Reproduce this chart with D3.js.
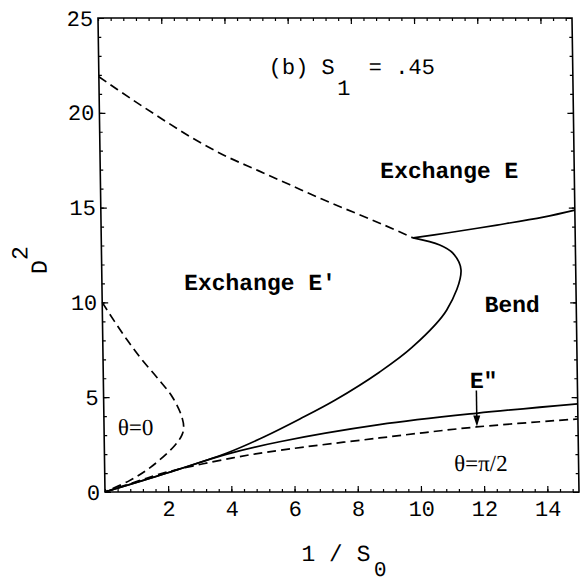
<!DOCTYPE html>
<html>
<head>
<meta charset="utf-8">
<script src="https://cdn.jsdelivr.net/npm/d3@7"></script>
<style>
  html, body { margin: 0; padding: 0; background: #fff; }
  svg { display: block; }
  .mono { font-family: "Liberation Mono", "DejaVu Sans Mono", monospace; }
  .serif { font-family: "Liberation Serif", "DejaVu Serif", serif; }
</style>
</head>
<body>
<svg id="chart" width="581" height="583"></svg>
<script>
// Tick values
const xTicks = [2, 4, 6, 8, 10, 12, 14];
const yTicks = [0, 5, 10, 15, 20, 25];
const xMinorTicks = d3.range(0, 15.01, 0.4).map(v => +v.toFixed(2));
const yMinorTicks = d3.range(0, 25.01, 1);

// Phase boundaries, 1/S0 (x) against D^2 (y)
// Exchange E | Exchange E'  (dashed)
const edgeEEpX = [0, 1, 2, 3, 4, 5, 6, 7, 8, 9, 9.87];
const edgeEEpY = [21.9, 20.75, 19.65, 18.6, 17.7, 16.95, 16.2, 15.45, 14.75, 14.05, 13.4];
// Exchange E | Bend  (solid)
const edgeEBX = [9.87, 10.94, 12.53, 14, 15];
const edgeEBY = [13.4, 13.66, 14.08, 14.5, 14.87];
// Exchange E' | Bend  (solid, from the origin round the nose to the triple point)
const edgeEpBX = [0, 1.97, 3.88, 5.05, 6.2, 7.33, 8.75, 9.8, 10.9, 11.37, 11.12, 10.71, 9.87];
const edgeEpBY = [0, 1.0, 2.06, 2.9, 3.85, 4.85, 6.33, 7.65, 9.6, 11.71, 12.6, 13.03, 13.4];
// Bend | E''  (solid)
const edgeBEppX = [0, 1.97, 3.88, 5.55, 8.71, 11.78, 15];
const edgeBEppY = [0, 1.0, 2.0, 2.65, 3.55, 4.15, 4.65];
// theta = pi/2 limit (dashed)
const edgeHalfPiX = [0, 1, 1.97, 4.06, 5.55, 8.71, 11.78, 15];
const edgeHalfPiY = [0, 0.55, 1.05, 1.8, 2.2, 2.85, 3.43, 3.85];
// theta = 0 limit (dashed)
const edgeZeroX = [0, 0.38, 0.78, 1.22, 1.72, 2.18, 2.46, 2.52, 2.46, 2.2, 1.45, 0.78, 0];
const edgeZeroY = [10, 9, 8, 7, 6, 5, 4, 3.4, 3, 2.4, 1.3, 0.6, 0];

const curves = [
  { xs: edgeEEpX, ys: edgeEEpY, dashed: true },
  { xs: edgeEBX, ys: edgeEBY, dashed: false },
  { xs: edgeEpBX, ys: edgeEpBY, dashed: false },
  { xs: edgeBEppX, ys: edgeBEppY, dashed: false },
  { xs: edgeHalfPiX, ys: edgeHalfPiY, dashed: true },
  { xs: edgeZeroX, ys: edgeZeroY, dashed: true }
];

const W = 581, H = 583;
const frame = { left: 98, top: 18, right: 572, bottom: 492 };

const x = d3.scaleLinear().domain([0, 15]).range([frame.left, frame.right]);
const y = d3.scaleLinear().domain([0, 25]).range([frame.bottom, frame.top]);

const svg = d3.select("#chart");
svg.append("rect").attr("width", W).attr("height", H).attr("fill", "#fff");

// the printed figure is slightly sheared: lower rows sit further right
const shear = Math.atan(7 / 474) * 180 / Math.PI;
const root = svg.append("g")
  .attr("transform", `translate(0,${frame.top}) skewX(${shear}) translate(0,${-frame.top})`);

// frame
root.append("rect")
  .attr("x", frame.left).attr("y", frame.top)
  .attr("width", frame.right - frame.left).attr("height", frame.bottom - frame.top)
  .attr("fill", "none").attr("stroke", "#000").attr("stroke-width", 1.6);

function styleAxis(g) {
  g.select(".domain").remove();
  g.selectAll(".tick line").attr("stroke", "#000").attr("stroke-width", 1.2);
  g.selectAll(".tick text")
    .attr("class", "mono").attr("fill", "#000").attr("font-size", 22);
}

const MAJOR = 6, MINOR = 3;

// bottom
root.append("g").attr("transform", `translate(0,${frame.bottom})`)
  .call(d3.axisBottom(x).tickValues(xMinorTicks).tickSize(-MINOR).tickFormat(""))
  .call(styleAxis);
root.append("g").attr("transform", `translate(0,${frame.bottom})`)
  .call(d3.axisBottom(x).tickValues(xTicks).tickSize(-MAJOR).tickPadding(8).tickFormat(d3.format("d")))
  .call(styleAxis);
// top
root.append("g").attr("transform", `translate(0,${frame.top})`)
  .call(d3.axisTop(x).tickValues(xMinorTicks).tickSize(-MINOR).tickFormat(""))
  .call(styleAxis);
root.append("g").attr("transform", `translate(0,${frame.top})`)
  .call(d3.axisTop(x).tickValues(xTicks).tickSize(-MAJOR).tickFormat(""))
  .call(styleAxis);
// left
root.append("g").attr("transform", `translate(${frame.left},0)`)
  .call(d3.axisLeft(y).tickValues(yMinorTicks).tickSize(-MINOR).tickFormat(""))
  .call(styleAxis);
root.append("g").attr("transform", `translate(${frame.left},0)`)
  .call(d3.axisLeft(y).tickValues(yTicks).tickSize(-MAJOR).tickPadding(5).tickFormat(d3.format("d")))
  .call(styleAxis);
// right
root.append("g").attr("transform", `translate(${frame.right},0)`)
  .call(d3.axisRight(y).tickValues(yMinorTicks).tickSize(-MINOR).tickFormat(""))
  .call(styleAxis);
root.append("g").attr("transform", `translate(${frame.right},0)`)
  .call(d3.axisRight(y).tickValues(yTicks).tickSize(-MAJOR).tickFormat(""))
  .call(styleAxis);

// boundaries
const line = d3.line()
  .x(d => x(d[0])).y(d => y(d[1]))
  .curve(d3.curveCatmullRom.alpha(0.5));

root.append("g").selectAll("path")
  .data(curves)
  .join("path")
  .attr("d", c => line(c.xs.map((v, i) => [v, c.ys[i]])))
  .attr("fill", "none")
  .attr("stroke", "#000")
  .attr("stroke-width", 1.7)
  .attr("stroke-dasharray", c => c.dashed ? "9,5" : null);

// region labels
const regions = [
  { text: "Exchange E", x: 8.86, y: 16.55 },
  { text: "Exchange E\u2032", x: 2.6, y: 10.65 },
  { text: "Bend", x: 12.1, y: 9.49 },
  { text: "E\"", x: 11.6, y: 5.5 }
];
root.append("g").selectAll("text")
  .data(regions)
  .join("text")
  .attr("class", "mono")
  .attr("font-weight", "bold")
  .attr("font-size", 23)
  .attr("x", d => x(d.x)).attr("y", d => y(d.y))
  .text(d => d.text);

// arrow to the theta = pi/2 line
const arrowX = 11.8, arrowFrom = 5.35, arrowTo = 3.45;
root.append("line")
  .attr("x1", x(arrowX)).attr("x2", x(arrowX))
  .attr("y1", y(arrowFrom)).attr("y2", y(arrowTo) - 9)
  .attr("stroke", "#000").attr("stroke-width", 1.5);
root.append("path")
  .attr("d", `M${x(arrowX) - 3.5},${y(arrowTo) - 11} L${x(arrowX) + 3.5},${y(arrowTo) - 11} L${x(arrowX)},${y(arrowTo)} Z`)
  .attr("fill", "#000");

// theta labels
const thetaLabels = [
  { text: "\u03B8=0", x: 0.44, y: 3.01 },
  { text: "\u03B8=\u03C0/2", x: 11.06, y: 1.11 }
];
root.append("g").selectAll("text")
  .data(thetaLabels)
  .join("text")
  .attr("class", "serif")
  .attr("font-size", 23)
  .attr("x", d => x(d.x)).attr("y", d => y(d.y))
  .text(d => d.text);

// panel title: (b) S1 = .45
const title = root.append("g").attr("class", "mono").attr("font-size", 22);
title.append("text").attr("x", 268).attr("y", 74).text("(b) S");
title.append("text").attr("x", 336).attr("y", 95).text("1");
title.append("text").attr("x", 368).attr("y", 74).text("= .45");

// x axis title: 1 / S0
const xt = root.append("g").attr("class", "mono");
xt.append("text").attr("x", 328).attr("y", 561).attr("font-size", 23)
  .attr("text-anchor", "middle").text("1 / S");
xt.append("text").attr("x", 372).attr("y", 576).attr("font-size", 21)
  .attr("text-anchor", "middle").text("0");

// y axis title: D^2
const yt = root.append("g").attr("class", "mono").attr("font-size", 23);
yt.append("text").attr("transform", "translate(43,267) rotate(-90)").attr("text-anchor", "middle").text("D");
yt.append("text").attr("transform", "translate(24,253) rotate(-90)").attr("text-anchor", "middle").text("2");
</script>
</body>
</html>
